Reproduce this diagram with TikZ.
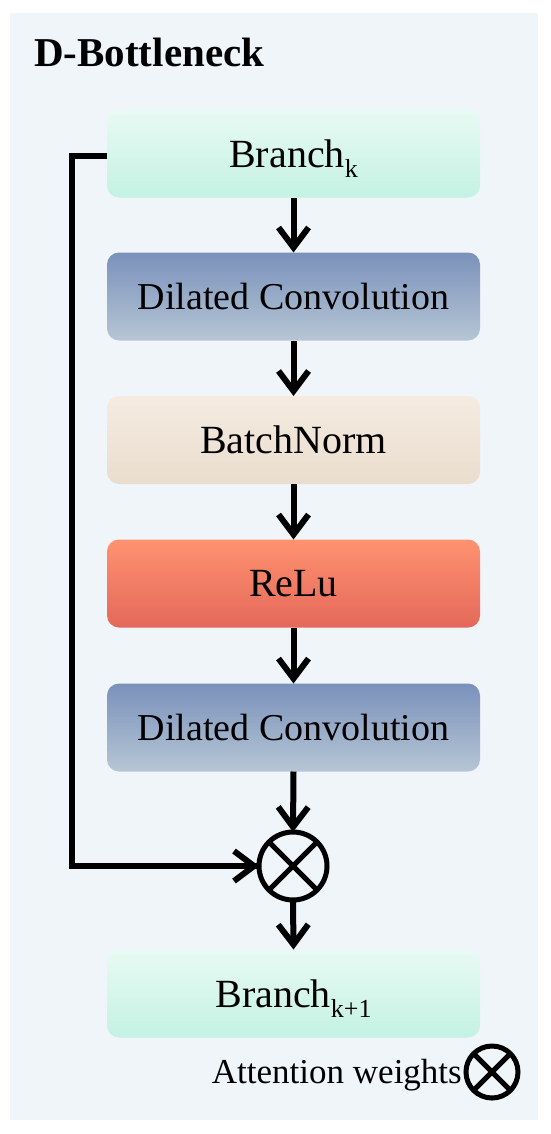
\documentclass[tikz,border=0pt]{standalone}
\usepackage{fontspec}
\setmainfont{Liberation Serif}
\usetikzlibrary{arrows.meta}
\definecolor{panelbg}{RGB}{240,245,250}
\definecolor{mintT}{RGB}{232,250,244}
\definecolor{mintB}{RGB}{196,242,226}
\definecolor{dcT}{RGB}{122,145,187}
\definecolor{dcB}{RGB}{182,198,213}
\definecolor{bnT}{RGB}{245,235,224}
\definecolor{bnB}{RGB}{233,221,206}
\definecolor{reT}{RGB}{255,146,112}
\definecolor{reB}{RGB}{228,104,90}
\tikzset{
  blockbox/.style={rounded corners=12pt, minimum width=373pt, minimum height=88pt, inner sep=0pt, outer sep=0pt, font=\fontsize{40}{40}\selectfont},
  mintbox/.style={blockbox, top color=mintT, bottom color=mintB},
  dcbox/.style={blockbox, top color=dcT, bottom color=dcB, font=\fontsize{38}{38}\selectfont},
  bnbox/.style={blockbox, top color=bnT, bottom color=bnB},
  rebox/.style={blockbox, top color=reT, bottom color=reB},
  conn/.style={line width=6pt, -{Straight Barb[length=20pt,width=30pt]}},
  plainline/.style={line width=6pt, line join=miter},
  mulnode/.style={circle, draw, line width=5pt, minimum size=68pt, inner sep=0pt, outer sep=0pt},
}
\newcommand{\mysub}[1]{\raisebox{-10pt}[0pt][0pt]{\fontsize{26}{26}\selectfont #1}}
\begin{document}
\begin{tikzpicture}[x=1pt,y=-1pt]
\useasboundingbox (0,0) rectangle (550,1134);
\fill[white] (0,0) rectangle (550,1134);
\fill[panelbg] (10,13) rectangle (538,1120);
\node[anchor=base west, inner sep=0pt, font=\fontsize{41}{41}\selectfont\bfseries] (title) at (34,67) {D-Bottleneck};

\node[mintbox] (bk) at (293.5,153.5) {Branch\mysub{k}};
\node[dcbox] (dc1) at (293.5,296.5) {Dilated Convolution};
\node[bnbox] (bn) at (293.5,440) {BatchNorm};
\node[rebox] (re) at (293.5,583.5) {ReLu};
\node[dcbox] (dc2) at (293.5,727.5) {Dilated Convolution};
\node[mulnode] (mul) at (293,866) {};
\draw[line width=5pt] (mul.north west) -- (mul.south east) (mul.north east) -- (mul.south west);
\node[mintbox] (bk1) at (293.5,993.5) {Branch\mysub{k+1}};

\draw[conn] (bk.south) -- (dc1.north);
\draw[conn] (dc1.south) -- (bn.north);
\draw[conn] (bn.south) -- (re.north);
\draw[conn] (re.south) -- (dc2.north);
\draw[conn] (dc2.south) -- (mul.north);
\draw[conn] (mul.south) -- (bk1.north);
\coordinate (lc) at (72,156);
\draw[plainline] ([yshift=-2.5pt]bk.west) -- (lc) |- (mul.west);
\draw[conn] (lc |- mul.west) -- (mul.west);

\node[anchor=base east, inner sep=0pt, font=\fontsize{35}{35}\selectfont] (attn) at (462,1083) {Attention weights};
\node[mulnode, minimum size=52pt] (leg) at (492,1072) {};
\draw[line width=5pt] (leg.north west) -- (leg.south east) (leg.north east) -- (leg.south west);
\end{tikzpicture}
\end{document}
